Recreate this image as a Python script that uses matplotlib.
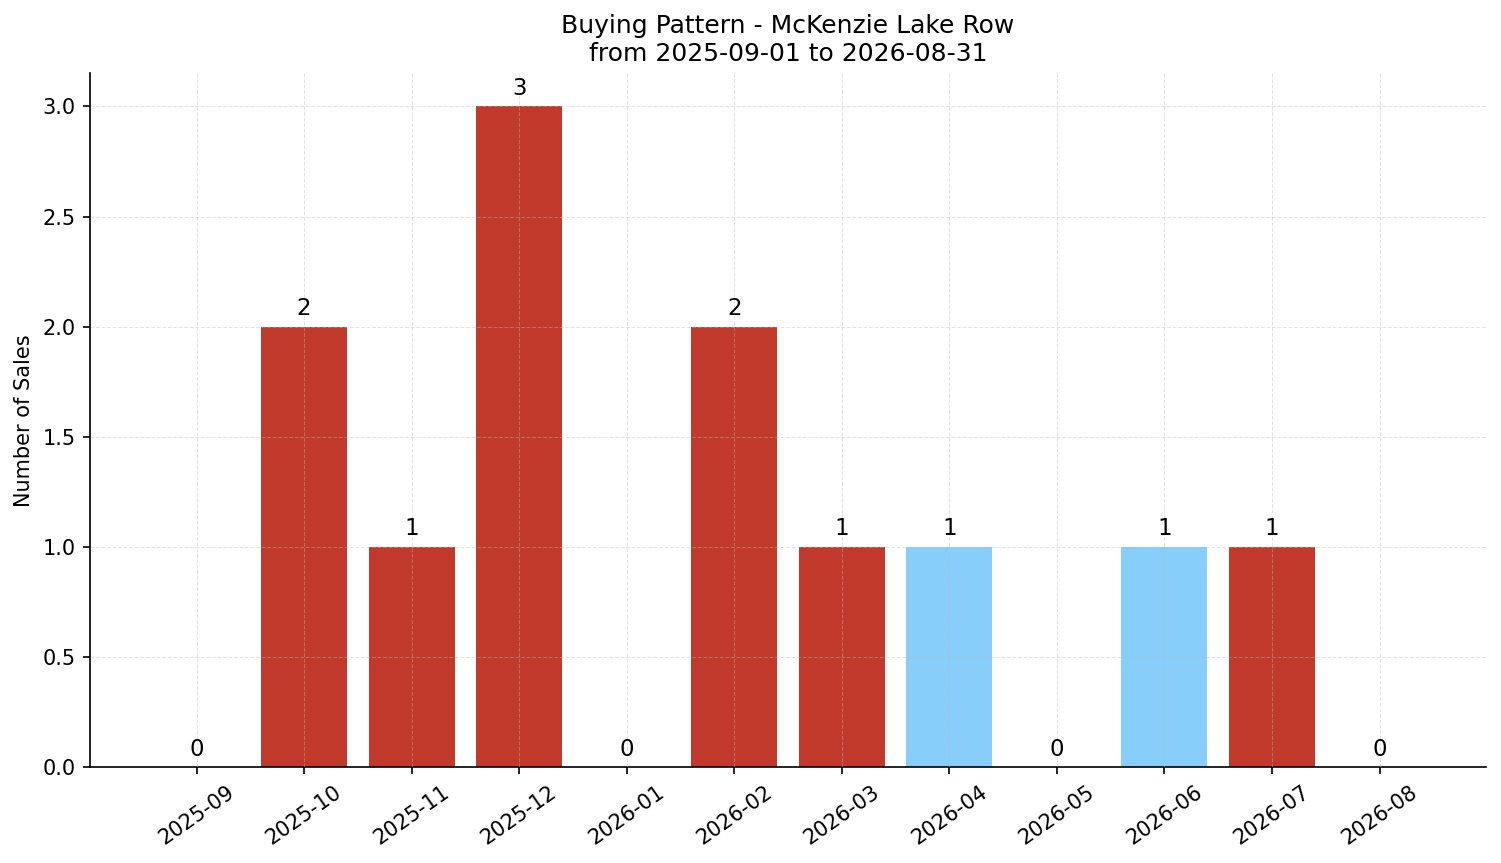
import matplotlib
matplotlib.use("Agg")
import matplotlib.pyplot as plt

months = ["2025-09", "2025-10", "2025-11", "2025-12", "2026-01", "2026-02",
          "2026-03", "2026-04", "2026-05", "2026-06", "2026-07", "2026-08"]
sales = [0, 2, 1, 3, 0, 2, 1, 1, 0, 1, 1, 0]
highlight = [False, False, False, False, False, False, False, True, False, True, False, False]

red = "#c0392b"
blue = "#87cefa"
colors = [blue if h else red for h in highlight]

fig, ax = plt.subplots(figsize=(1501 / 150, 863 / 150), dpi=150)
fig.subplots_adjust(left=0.06, right=0.99, bottom=0.111, top=0.915)

x = list(range(len(months)))
bars = ax.bar(x, sales, color=colors, width=0.8)
for xi, v in zip(x, sales):
    ax.text(xi, v + 0.03, str(v), ha="center", va="bottom", fontsize=11)

ax.set_xticks(x)
ax.set_xticklabels(months, rotation=35)
ax.set_ylabel("Number of Sales")
ax.set_title("Buying Pattern - McKenzie Lake Row\nfrom 2025-09-01 to 2026-08-31", fontsize=12)
ax.set_ylim(0, 3.15)
ax.set_axisbelow(False)
ax.grid(True, linestyle="--", linewidth=0.5, color="#bbbbbb", alpha=0.4)
ax.spines["top"].set_visible(False)
ax.spines["right"].set_visible(False)

fig.savefig("out.png", dpi=150)
